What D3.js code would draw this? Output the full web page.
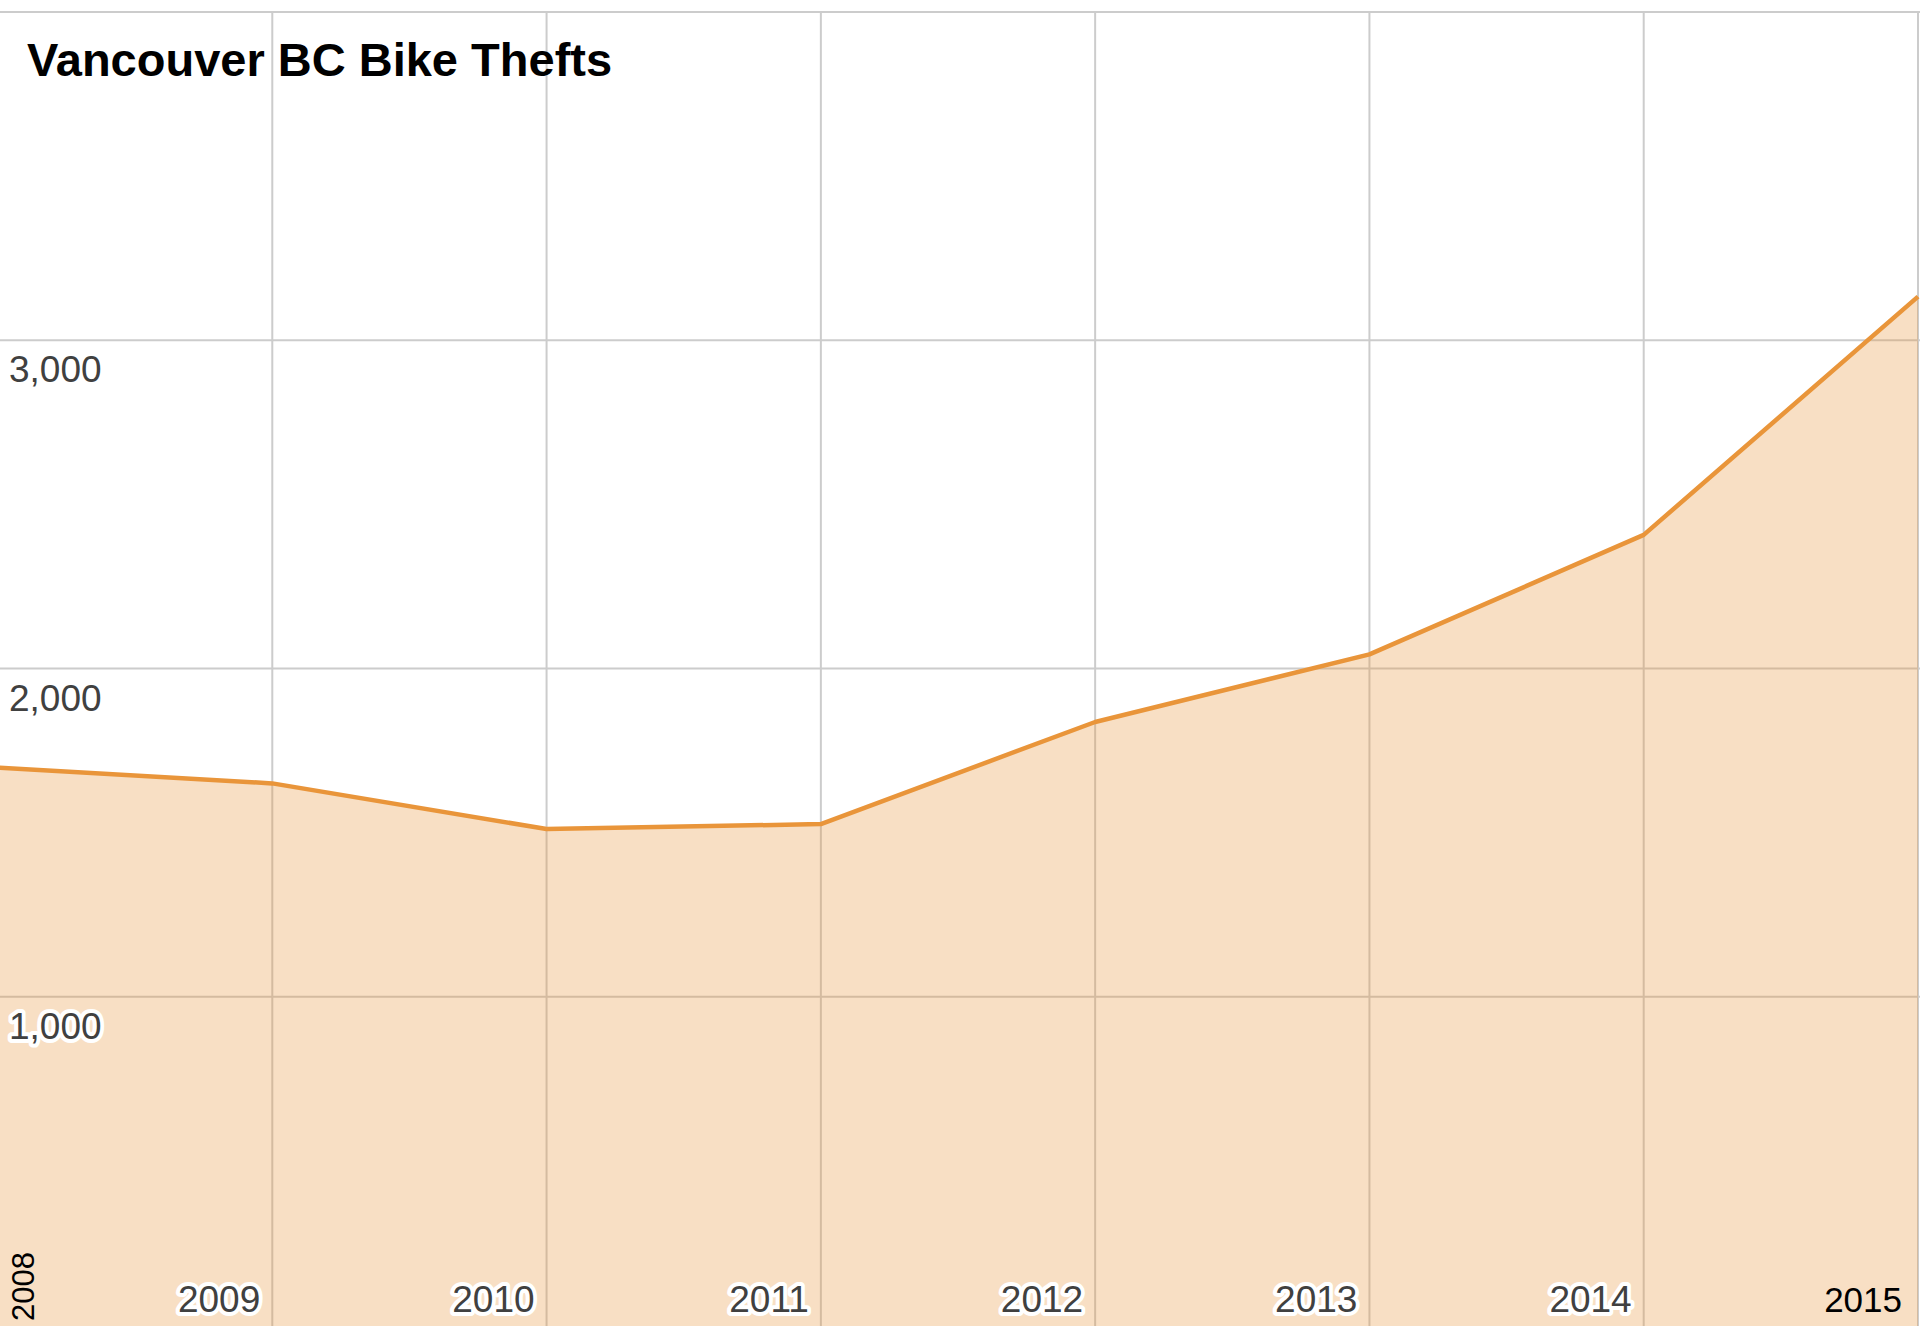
<!DOCTYPE html>
<html>
<head>
<meta charset="utf-8">
<title>Vancouver BC Bike Thefts</title>
<script src="https://cdn.jsdelivr.net/npm/d3@7"></script>
<style>
  html, body { margin: 0; padding: 0; background: #fff; }
  svg { display: block; font-family: "Liberation Sans", Arial, Helvetica, sans-serif; }
</style>
</head>
<body>
<div id="chart"></div>
<script>
// data
var years      = [2008, 2009, 2010, 2011, 2012, 2013, 2014, 2015];
var thefts     = [1698, 1650, 1511, 1526, 1837, 2043, 2407, 3133];
var yTicks     = [1000, 2000, 3000, 4000];
var yLabels    = [1000, 2000, 3000];
var title      = 'Vancouver BC Bike Thefts';

function areaChart () {

  //config options
  var width       = 1920
    , height      = 1326
    , lineColor   = '#e9953a'
    , gridColor   = '#cccccc'
    , labelColor  = '#404040'
    , data        = []
  ;

  function chart(selection) {

    selection.each(function () {

      var x = d3.scaleLinear()
          .domain(d3.extent(data, function (d) { return d.year; }))
          .range([-2, 1918]);

      var y = d3.scaleLinear()
          .domain([0, 4000])
          .range([1325, 12]);

      var svg = d3.select(this).append('svg')
          .attr('class', 'chart areachart')
          .attr('width', width)
          .attr('height', height);

      // grid
      svg.append('g').attr('class', 'grid grid--y')
        .selectAll('line')
        .data(yTicks)
        .enter()
        .append('line')
          .attr('x1', 0)
          .attr('x2', width)
          .attr('y1', function (d) { return y(d); })
          .attr('y2', function (d) { return y(d); })
          .attr('stroke', gridColor)
          .attr('stroke-width', 2);

      svg.append('g').attr('class', 'grid grid--x')
        .selectAll('line')
        .data(years.slice(1))
        .enter()
        .append('line')
          .attr('x1', function (d) { return x(d); })
          .attr('x2', function (d) { return x(d); })
          .attr('y1', y(4000))
          .attr('y2', height)
          .attr('stroke', gridColor)
          .attr('stroke-width', 2);

      // area + line
      var area = d3.area()
          .x(function (d) { return x(d.year); })
          .y0(y(0) + 5)
          .y1(function (d) { return y(d.value); });

      var line = d3.line()
          .x(function (d) { return x(d.year); })
          .y(function (d) { return y(d.value); });

      svg.append('path')
          .datum(data)
          .attr('class', 'chart__area')
          .attr('d', area)
          .attr('fill', lineColor)
          .attr('fill-opacity', 0.3);

      svg.append('path')
          .datum(data)
          .attr('class', 'chart__line')
          .attr('d', line)
          .attr('fill', 'none')
          .attr('stroke', lineColor)
          .attr('stroke-width', 4.5)
          .attr('stroke-linejoin', 'round');

      // y labels, sat just under their grid line
      var fmt = d3.format(',');
      svg.append('g').attr('class', 'labels labels--y')
        .selectAll('text')
        .data(yLabels)
        .enter()
        .append('text')
          .attr('x', 9)
          .attr('y', function (d) { return y(d) + 42; })
          .attr('font-size', 37)
          .attr('fill', labelColor)
          .attr('stroke', '#fff')
          .attr('stroke-width', 8)
          .attr('stroke-linejoin', 'round')
          .attr('paint-order', 'stroke')
          .text(fmt);

      // x labels, inner years right-aligned to their grid line
      var inner = years.slice(1, -1);
      svg.append('g').attr('class', 'labels labels--x')
        .selectAll('text')
        .data(inner)
        .enter()
        .append('text')
          .attr('x', function (d) { return x(d) - 12; })
          .attr('y', 1312)
          .attr('text-anchor', 'end')
          .attr('font-size', 37)
          .attr('fill', labelColor)
          .attr('stroke', '#fff')
          .attr('stroke-width', 8)
          .attr('stroke-linejoin', 'round')
          .attr('paint-order', 'stroke')
          .text(function (d) { return d; });

      var first = years[0], last = years[years.length - 1];

      svg.append('text')
          .attr('transform', 'translate(' + (x(first) + 36) + ',1321) rotate(-90)')
          .attr('font-size', 31)
          .attr('fill', '#000')
          .text(first);

      svg.append('text')
          .attr('x', x(last) - 16)
          .attr('y', 1312)
          .attr('text-anchor', 'end')
          .attr('font-size', 35)
          .attr('fill', '#000')
          .text(last);

      // title
      svg.append('text')
          .attr('x', 27)
          .attr('y', 76)
          .attr('font-size', 47)
          .attr('font-weight', 'bold')
          .attr('fill', '#000')
          .text(title);

    });
  }

  // getter/setters
  chart.width = function(value) {
    if (!arguments.length) return width;
    width = value;
    return chart;
  };

  chart.height = function(value) {
    if (!arguments.length) return height;
    height = value;
    return chart;
  };

  chart.data = function(value) {
    if (!arguments.length) return data;
    data = value;
    return chart;
  };

  return chart;
}

var rows = years.map(function (yr, i) { return { year: yr, value: thefts[i] }; });

d3.select('#chart').call(areaChart().data(rows));
</script>
</body>
</html>
